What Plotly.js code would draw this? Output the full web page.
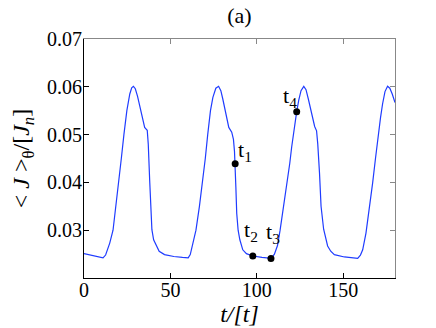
<!DOCTYPE html>
<html>
<head>
<meta charset="utf-8">
<script src="https://cdn.plot.ly/plotly-3.0.1.min.js"></script>
<style>
  html, body { margin: 0; padding: 0; background: #fff; }
  #chart { width: 436px; height: 328px; }
</style>
</head>
<body>
<div id="chart"></div>
<script>
width = 436;
height = 328;

// <J>_theta over time
let time = [0, 5, 11, 12.5, 14.9, 16.8, 18.5, 20.1, 21.6, 23.1, 24.8, 26.5, 27.6, 28.6, 29.7, 31, 32.5, 34, 35.1, 36.6,
  37.2, 38, 38.7, 39.3, 40.3, 41.8, 43.5, 46.6, 52, 57,
  60.3, 61.5, 63, 64.8, 66.8, 68.7, 70.2, 71.6, 73.2, 74.6, 76.3, 77.9, 79.2, 80.3, 81.3, 82.6, 83.8, 85.5,
  86.5, 87.1, 87.5, 87.9, 88.4, 89.2, 90.2, 91.9, 94, 97.7, 103,
  108.4, 110.2, 112, 113.5, 115, 116.5, 117.9, 119.1, 120.2, 121.3, 122.4, 123.1, 124.3, 125.6, 127.2, 128.5,
  129.8, 131, 132.3, 133.5, 134.6, 135.3, 136.3, 137.2, 138.7, 140, 141, 142.8, 144.9, 150.7, 155,
  158.4, 160, 161.3, 163.2, 165.2, 167.1, 168.7, 170.3, 171.6, 172.8, 174.2, 175.7, 177, 178.4, 179.6, 180];
let current = [0.0251, 0.0247, 0.0242, 0.0248, 0.0273, 0.0300, 0.0350, 0.0400, 0.0450, 0.0500, 0.0550, 0.0585, 0.0598, 0.0601, 0.0596, 0.0580, 0.0555, 0.0530, 0.0515, 0.0509,
  0.0480, 0.0405, 0.0340, 0.0301, 0.0280, 0.0267, 0.0256, 0.0249, 0.0245, 0.0243,
  0.0242, 0.0249, 0.0270, 0.0300, 0.0350, 0.0400, 0.0450, 0.0500, 0.0550, 0.0578, 0.0597, 0.0601, 0.0592, 0.0575, 0.0557, 0.0535, 0.0515, 0.0505,
  0.0490, 0.0465, 0.0439, 0.0390, 0.0335, 0.0300, 0.0280, 0.0259, 0.0251, 0.0246, 0.0243,
  0.0241, 0.0250, 0.0268, 0.0300, 0.0335, 0.0370, 0.0405, 0.0440, 0.0474, 0.0505, 0.0533, 0.0548, 0.0572, 0.0592, 0.0601, 0.0594,
  0.0575, 0.0556, 0.0535, 0.0517, 0.0508, 0.0480, 0.0420, 0.0350, 0.0302, 0.0280, 0.0267, 0.0256, 0.0249, 0.0244, 0.0242,
  0.0241, 0.0248, 0.0259, 0.0294, 0.0345, 0.0400, 0.0450, 0.0500, 0.0535, 0.0564, 0.0590, 0.0601, 0.0597, 0.0585, 0.0571, 0.0567];

// the four marked instants
let markTime = [87.5, 97.7, 108.2, 123.1];
let markCurrent = [0.0439, 0.0246, 0.0241, 0.0548];
let markLabel = ['t<sub>1</sub>', 't<sub>2</sub>', 't<sub>3</sub>', 't<sub>4</sub>'];

let xTicks = [0, 50, 100, 150];
let yTicks = [0.03, 0.04, 0.05, 0.06, 0.07];
let yTickText = ['0.03', '0.04', '0.05', '0.06', '0.07'];

let serif = 'Liberation Serif, DejaVu Serif, serif';

// where each label sits next to its dot
let labelPlace = [
  {xanchor: 'left', yanchor: 'bottom', xshift: 1, yshift: -3},
  {xanchor: 'center', yanchor: 'bottom', xshift: -2, yshift: 9},
  {xanchor: 'center', yanchor: 'bottom', xshift: 2, yshift: 9},
  {xanchor: 'right', yanchor: 'bottom', xshift: 2, yshift: -1}
];

let curve = {
  x: time,
  y: current,
  mode: 'lines',
  type: 'scatter',
  line: {color: '#1f3cff', width: 1.2},
  hoverinfo: 'skip'
};

let marks = {
  x: markTime,
  y: markCurrent,
  mode: 'markers',
  type: 'scatter',
  marker: {color: '#000000', size: 7},
  hoverinfo: 'skip'
};

// empty trace so the top and right axes get drawn
let frame = {
  x: [],
  y: [],
  xaxis: 'x2',
  yaxis: 'y2',
  mode: 'lines',
  type: 'scatter',
  hoverinfo: 'skip'
};

let annotations = markLabel.map(function (txt, i) {
  return Object.assign({
    x: markTime[i],
    y: markCurrent[i],
    text: txt,
    showarrow: false,
    font: {family: serif, size: 22, color: '#000000'}
  }, labelPlace[i]);
});

let layout = {
  width: width,
  height: height,
  showlegend: false,
  paper_bgcolor: '#ffffff',
  plot_bgcolor: '#ffffff',
  margin: {l: 84, r: 41, t: 39, b: 50, pad: 0},
  font: {family: serif, color: '#000000'},
  title: {
    text: '(a)',
    font: {family: serif, size: 22, color: '#000000'},
    x: 0.549,
    xanchor: 'center',
    y: 0.954,
    yanchor: 'middle'
  },
  xaxis: {
    range: [0, 180],
    tickvals: xTicks,
    ticktext: xTicks.map(String),
    ticks: 'inside',
    ticklen: 5,
    tickcolor: '#000000',
    ticklabelstandoff: -6,
    showline: true,
    linecolor: '#000000',
    linewidth: 1,
    showgrid: false,
    zeroline: false,
    automargin: false,
    tickfont: {family: serif, size: 20, color: '#000000'},
    title: {
      text: '<i>t/[t]</i>',
      font: {family: serif, size: 24, color: '#000000'},
      standoff: 0
    }
  },
  yaxis: {
    range: [0.02, 0.07],
    tickvals: yTicks,
    ticktext: yTickText,
    ticks: 'inside',
    ticklen: 5,
    tickcolor: '#000000',
    ticklabelstandoff: -3,
    showline: true,
    linecolor: '#000000',
    linewidth: 1,
    showgrid: false,
    zeroline: false,
    automargin: false,
    tickfont: {family: serif, size: 20, color: '#000000'},
    title: {
      text: '&lt; <i>J</i> &gt;<sub>θ</sub>/[<i>J</i><sub><i>n</i></sub>]',
      font: {family: serif, size: 24, color: '#000000'},
      standoff: 10
    }
  },
  xaxis2: {
    overlaying: 'x',
    side: 'top',
    range: [0, 180],
    tickvals: xTicks,
    ticks: 'inside',
    ticklen: 5,
    tickcolor: '#888888',
    showticklabels: false,
    showline: true,
    linecolor: '#888888',
    linewidth: 1,
    showgrid: false,
    zeroline: false
  },
  yaxis2: {
    overlaying: 'y',
    side: 'right',
    range: [0.02, 0.07],
    tickvals: yTicks,
    ticks: 'inside',
    ticklen: 5,
    tickcolor: '#888888',
    showticklabels: false,
    showline: true,
    linecolor: '#888888',
    linewidth: 1,
    showgrid: false,
    zeroline: false
  },
  annotations: annotations
};

Plotly.newPlot('chart', [curve, marks, frame], layout, {staticPlot: true, displayModeBar: false});
</script>
</body>
</html>
